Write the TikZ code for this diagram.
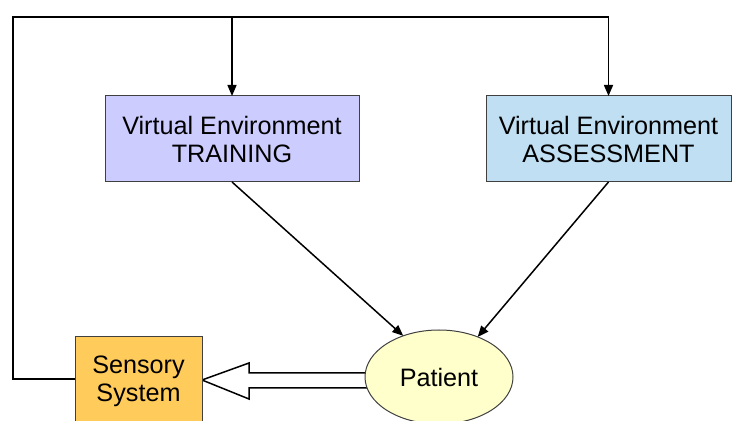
\documentclass[tikz,border=0pt]{standalone}
\usepackage{fontspec}
\setmainfont{Liberation Sans}
\usetikzlibrary{calc,arrows.meta}
\usetikzlibrary{shapes.geometric}
\pgfdeclarelayer{edgelayer}
\pgfsetlayers{edgelayer,main}

\definecolor{trainfill}{RGB}{204,204,255}
\definecolor{assessfill}{RGB}{192,223,243}
\definecolor{sensefill}{RGB}{255,204,92}
\definecolor{patientfill}{RGB}{255,255,204}

\tikzset{
  boxnode/.style={draw=black!75,line width=0.5pt,rectangle,align=center,
    inner sep=0pt,outer sep=0pt,font=\fontsize{12.6}{14}\selectfont},
  feedline/.style={draw=black,line width=0.75pt},
  arr/.style={feedline,-{Triangle[length=5.5pt,width=4.5pt]}}
}

\begin{document}
\begin{tikzpicture}[y=0.5pt, x=0.5pt, yscale=-1.000000, xscale=1.000000]
  \useasboundingbox (0,0) rectangle (732,421);
  \clip (0,0) rectangle (732,421);
  % boxes
  \node[boxnode,fill=trainfill,minimum width=127pt,minimum height=43pt]
    (train) at (232,139) {Virtual Environment\\TRAINING};
  \node[boxnode,fill=assessfill,minimum width=122.5pt,minimum height=43pt]
    (assess) at (608.5,139) {Virtual Environment\\ASSESSMENT};
  \node[boxnode,fill=sensefill,minimum width=63.5pt,minimum height=44pt]
    (sense) at (138.5,381) {Sensory\\System};
  \node[boxnode,ellipse,fill=patientfill,minimum width=74pt,minimum height=47pt]
    (patient) at (439,377) {Patient};
  \coordinate (topleft) at (13,17);

  % feedback loop
  \draw[arr] ([yshift=-1pt]sense.west) -| (topleft) -| (assess.north);
  \draw[arr] (train.north |- topleft) -- (train.north);
  \draw[arr] (train.south) -- (patient.131);
  \draw[arr] (assess.south) -- (patient.46);

  % hollow arrow patient -> sensory system
  \coordinate (tip) at ($(sense.east)+(0,-1)$);
  \coordinate (headtop) at ($(tip)+(47,-17)$);
  \coordinate (shafttop) at ($(tip)+(47,-7)$);
  \coordinate (shaftbot) at ($(tip)+(47,8)$);
  \coordinate (headbot) at ($(tip)+(47,19)$);
  \begin{pgfonlayer}{edgelayer}
    \path[draw=black,fill=white,line width=0.75pt,line join=miter]
      (tip) -- (headtop) -- (shafttop) -- (shafttop -| patient.center)
      -- (shaftbot -| patient.center) -- (shaftbot) -- (headbot) -- cycle;
  \end{pgfonlayer}
\end{tikzpicture}
\end{document}
